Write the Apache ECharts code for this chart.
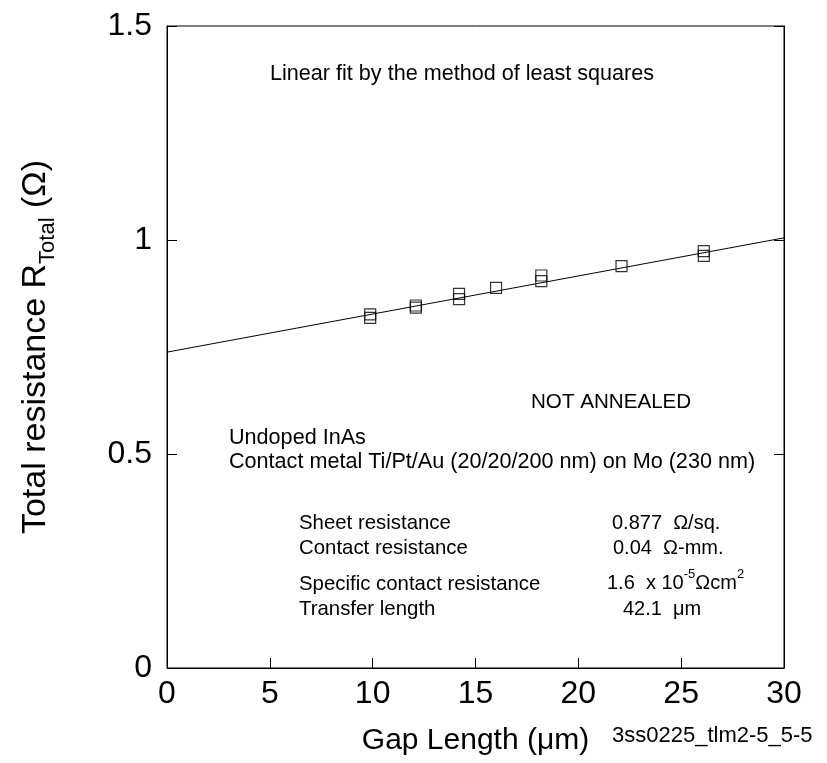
<!DOCTYPE html>
<html>
<head>
<meta charset="utf-8">
<script src="https://cdn.jsdelivr.net/npm/echarts@6/dist/echarts.min.js"></script>
<style>
html,body{margin:0;padding:0;background:#fff;}
#chart{width:827px;height:763px;}
</style>
</head>
<body>
<div id="chart"></div>
<script>
// Measured data (gap length in µm, total resistance in Ω)
var gapLength = [9.88, 9.88, 12.1, 12.1, 14.2, 14.2, 16.0, 18.2, 18.2, 22.1, 26.1, 26.1];
var totalResistance = [0.826, 0.818, 0.847, 0.842, 0.874, 0.862, 0.888, 0.917, 0.904, 0.939, 0.974, 0.963];
// Least-squares fit line end points
var fitX = [0, 30];
var fitY = [0.738, 1.005];
// Axis ranges / ticks
var xTicks = [0, 30, 5];
var yTicks = [0, 1.5, 0.5];

var font = 'Liberation Sans, Arial, sans-serif';
var chart = echarts.init(document.getElementById('chart'), null, {renderer: 'canvas'});

var pts = gapLength.map(function (x, i) { return [x, totalResistance[i]]; });
var fit = fitX.map(function (x, i) { return [x, fitY[i]]; });

var L = 167, T = 26, W = 617, H = 642;

function txt(text, x, y, size) {
  return {
    type: 'text', left: x, top: y,
    style: { text: text, font: (size || 20) + 'px ' + font, fill: '#000' }
  };
}

chart.setOption({
  animation: false,
  backgroundColor: '#fff',
  grid: { left: L, top: T, width: W, height: H, show: true, borderColor: '#000', borderWidth: 1, backgroundColor: 'transparent' },
  xAxis: {
    type: 'value', min: xTicks[0], max: xTicks[1], interval: xTicks[2],
    axisLine: { show: true, lineStyle: { color: '#000', width: 1 } },
    axisTick: { show: true, inside: true, length: 10, lineStyle: { color: '#000' } },
    splitLine: { show: false },
    axisLabel: { fontSize: 32, fontFamily: font, color: '#000', margin: 10 },
    name: 'Gap Length (\u03bcm)', nameLocation: 'middle', nameGap: 58,
    nameTextStyle: { fontSize: 30, fontFamily: font, color: '#000' }
  },
  yAxis: [{
    type: 'value', min: yTicks[0], max: yTicks[1], interval: yTicks[2],
    axisLine: { show: true, lineStyle: { color: '#000', width: 1 } },
    axisTick: { show: true, inside: true, length: 10, lineStyle: { color: '#000' } },
    splitLine: { show: false },
    axisLabel: { fontSize: 32, fontFamily: font, color: '#000', margin: 15,
      formatter: function (v) { return String(v); } },
    name: '{a|Total resistance R}{s|Total}{a| (\u03a9)}', nameLocation: 'middle', nameGap: 108, nameRotate: 90,
    nameTextStyle: {
      fontFamily: font, color: '#000',
      rich: {
        a: { fontSize: 34, fontFamily: font, color: '#000', lineHeight: 46 },
        s: { fontSize: 22, fontFamily: font, color: '#000', verticalAlign: 'bottom', lineHeight: 46 }
      }
    }
  }, {
    type: 'value', position: 'right', min: yTicks[0], max: yTicks[1], interval: yTicks[2],
    axisLine: { show: true, lineStyle: { color: '#000', width: 1 } },
    axisTick: { show: true, inside: true, length: 10, lineStyle: { color: '#000' } },
    axisLabel: { show: false }, splitLine: { show: false }
  }],
  series: [{
    type: 'line', data: fit, showSymbol: false, symbol: 'none',
    lineStyle: { color: '#000', width: 1 }, silent: true, z: 2
  }, {
    type: 'scatter', data: pts, symbol: 'rect', symbolSize: 11,
    itemStyle: { color: 'rgba(0,0,0,0)', borderColor: '#000', borderWidth: 1.2 }, z: 3
  }],
  graphic: [
    txt('Linear fit by the method of least squares', 270, 63, 21.6),
    txt('NOT ANNEALED', 531, 392, 20.6),
    txt('Undoped InAs', 229, 427, 21.6),
    txt('Contact metal Ti/Pt/Au (20/20/200 nm) on Mo (230 nm)', 229, 451, 21.6),
    txt('Sheet resistance', 299, 513, 20.4),
    txt('0.877  \u03a9/sq.', 612, 513, 20),
    txt('Contact resistance', 299, 538, 20.4),
    txt('0.04  \u03a9-mm.', 613, 538, 20),
    txt('Specific contact resistance', 299, 574, 20.4),
    {
      type: 'text', left: 607, top: 568,
      style: {
        text: '{t|1.6  x 10}{p|-5}{t|\u03a9cm}{p|2}',
        font: '20px ' + font, fill: '#000',
        rich: {
          t: { fontSize: 20, fontFamily: font, fill: '#000', lineHeight: 30 },
          p: { fontSize: 13, fontFamily: font, fill: '#000', verticalAlign: 'top', lineHeight: 30 }
        }
      }
    },
    txt('Transfer length', 299, 599, 20.4),
    txt('42.1  \u03bcm', 623, 599, 20),
    txt('3ss0225_tlm2-5_5-5', 612, 725, 22)
  ]
});
</script>
</body>
</html>
